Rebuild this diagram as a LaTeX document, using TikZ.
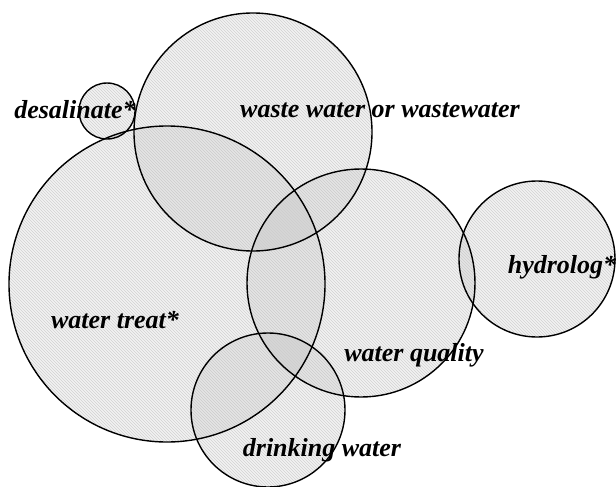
\documentclass[tikz,border=0pt]{standalone}
\usepackage{fontspec}
\setmainfont{Liberation Serif}
\usetikzlibrary{patterns}
\tikzset{haze/.style={circle, inner sep=0pt,
    fill=black, fill opacity=0.05,
    postaction={pattern=north west lines, pattern color=black!18}}}
\tikzset{ring/.style={draw, circle, inner sep=0pt, line width=1.4pt}}
\tikzset{lab/.style={font=\fontsize{26}{28}\selectfont\bfseries\itshape, inner sep=0pt}}

\begin{document}
\begin{tikzpicture}[x=1pt, y=-1pt]
\useasboundingbox (0,0) rectangle (616,487);

% shaded discs
\node[haze, minimum size=316pt] (treatbg) at (167, 284) {};
\node[haze, minimum size=238pt] (wastebg) at (253, 132) {};
\node[haze, minimum size=56pt] (desalbg) at (107, 111) {};
\node[haze, minimum size=228pt] (qualitybg) at (361, 283) {};
\node[haze, minimum size=156pt] (hydrobg) at (537, 259) {};
\node[haze, minimum size=154pt] (drinkbg) at (268, 410) {};

% outlines
\node[ring, minimum size=316pt] (treat) at (treatbg) {};
\node[ring, minimum size=238pt] (waste) at (wastebg) {};
\node[ring, minimum size=56pt] (desal) at (desalbg) {};
\node[ring, minimum size=228pt] (quality) at (qualitybg) {};
\node[ring, minimum size=156pt] (hydro) at (hydrobg) {};
\node[ring, minimum size=154pt] (drink) at (drinkbg) {};

\node[lab] (tdesal) at (75, 110) {desalinate*};
\node[lab] (twaste) at (380, 110) {waste water or wastewater};
\node[lab] (ttreat) at (115, 320) {water treat*};
\node[lab] (tquality) at (414, 355) {water quality};
\node[lab] (thydro) at (562, 267) {hydrolog*};
\node[lab] (tdrink) at (322, 450) {drinking water};
\end{tikzpicture}
\end{document}
